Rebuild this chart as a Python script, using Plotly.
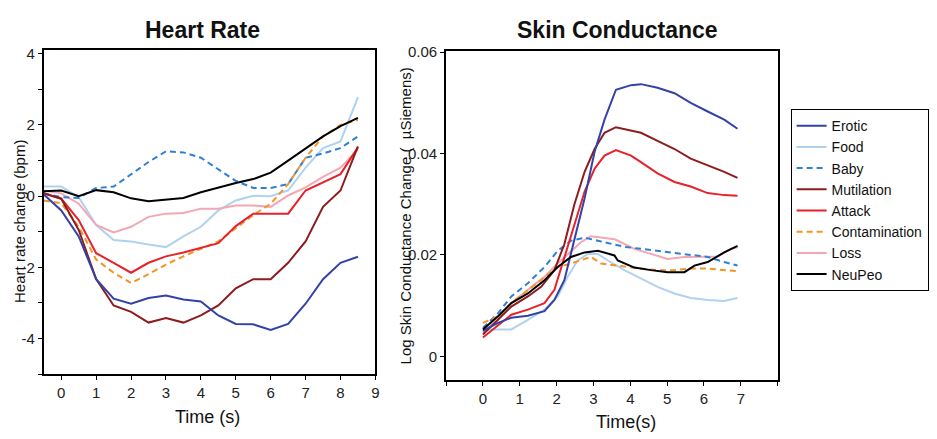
import plotly.graph_objects as go

# ---------------- Heart rate data (bpm change) ----------------
hr_time = [-0.5, 0, 0.5, 1, 1.5, 2, 2.5, 3, 3.5, 4, 4.5, 5, 5.5, 6, 6.5, 7, 7.5, 8, 8.5]
hr_erotic = [0.05, -0.4, -1.13, -2.33, -2.88, -3.02, -2.86, -2.79, -2.9, -2.96, -3.35, -3.59, -3.6, -3.76, -3.59, -3.02, -2.33, -1.87, -1.7]
hr_food = [0.27, 0.27, -0.03, -0.81, -1.23, -1.27, -1.36, -1.43, -1.13, -0.86, -0.4, -0.12, 0.01, 0.0, 0.16, 0.8, 1.35, 1.54, 2.78]
hr_baby = [0.08, -0.03, -0.05, 0.23, 0.27, 0.62, 0.96, 1.26, 1.23, 1.08, 0.76, 0.43, 0.23, 0.23, 0.34, 1.08, 1.2, 1.35, 1.68]
hr_mutilation = [0.08, -0.07, -0.95, -2.33, -3.07, -3.25, -3.55, -3.42, -3.55, -3.35, -3.07, -2.59, -2.33, -2.33, -1.87, -1.27, -0.3, 0.16, 1.4]
hr_attack = [0.08, -0.07, -0.67, -1.6, -1.87, -2.15, -1.87, -1.69, -1.58, -1.46, -1.32, -0.84, -0.49, -0.49, -0.49, 0.16, 0.39, 0.62, 1.37]
hr_contamination = [-0.12, -0.2, -0.86, -1.78, -2.15, -2.44, -2.19, -1.92, -1.69, -1.48, -1.27, -0.9, -0.53, -0.21, 0.34, 1.08, 1.68, 2.0, 2.14]
hr_loss = [0.16, 0.08, -0.21, -0.81, -1.02, -0.86, -0.58, -0.49, -0.47, -0.35, -0.35, -0.26, -0.26, -0.3, 0.02, 0.25, 0.54, 0.8, 1.31]
hr_neupeo = [0.14, 0.16, 0.0, 0.17, 0.11, -0.06, -0.14, -0.09, -0.05, 0.11, 0.25, 0.37, 0.48, 0.66, 1.0, 1.34, 1.68, 1.97, 2.2]

# ---------------- Skin conductance data (log µS change) ----------------
sc_t_erotic = [0.0, 0.41, 0.77, 1.22, 1.67, 1.94, 2.21, 2.48, 2.76, 3.03, 3.3, 3.61, 3.84, 4.02, 4.29, 4.74, 5.2, 5.64, 6.1, 6.55, 6.91]
sc_erotic = [0.0050, 0.0066, 0.0076, 0.0080, 0.0089, 0.0111, 0.0150, 0.0228, 0.0312, 0.0403, 0.0467, 0.0526, 0.0531, 0.0535, 0.0537, 0.0530, 0.0519, 0.0500, 0.0483, 0.0467, 0.0449]

sc_t_food = [0.0, 0.41, 0.77, 1.22, 1.67, 2.03, 2.3, 2.57, 2.85, 3.12, 3.39, 3.84, 4.29, 4.74, 5.2, 5.64, 6.1, 6.55, 6.91]
sc_food = [0.0053, 0.0053, 0.0053, 0.0072, 0.0092, 0.0118, 0.0157, 0.0189, 0.0202, 0.0202, 0.0189, 0.0170, 0.0153, 0.0137, 0.0124, 0.0115, 0.0111, 0.0109, 0.0115]

sc_t_baby = [0.0, 0.41, 0.77, 1.22, 1.67, 2.03, 2.39, 2.76, 3.12, 3.57, 3.84, 4.29, 4.74, 5.2, 5.64, 6.1, 6.55, 6.91]
sc_baby = [0.0056, 0.0085, 0.0118, 0.0144, 0.0176, 0.0208, 0.0228, 0.0234, 0.0228, 0.0221, 0.0216, 0.0212, 0.0208, 0.0205, 0.0200, 0.0196, 0.0186, 0.0179]

sc_t_mutilation = [0.0, 0.41, 0.77, 1.22, 1.58, 1.94, 2.21, 2.48, 2.76, 3.03, 3.3, 3.61, 4.29, 4.74, 5.2, 5.64, 6.1, 6.55, 6.91]
sc_mutilation = [0.0043, 0.0072, 0.0098, 0.0118, 0.0137, 0.0170, 0.0221, 0.0299, 0.0364, 0.0409, 0.0441, 0.0452, 0.0441, 0.0425, 0.0409, 0.0390, 0.0377, 0.0364, 0.0352]

sc_t_attack = [0.0, 0.41, 0.77, 1.22, 1.67, 1.94, 2.21, 2.48, 2.76, 3.03, 3.3, 3.61, 4.02, 4.29, 4.74, 5.2, 5.64, 6.1, 6.55, 6.91]
sc_attack = [0.0037, 0.0060, 0.0082, 0.0092, 0.0105, 0.0131, 0.0196, 0.0260, 0.0325, 0.0370, 0.0396, 0.0407, 0.0396, 0.0383, 0.0361, 0.0344, 0.0335, 0.0322, 0.0318, 0.0317]

sc_t_contamination = [0.0, 0.41, 0.77, 1.22, 1.67, 2.03, 2.39, 2.76, 2.93, 3.21, 3.57, 3.84, 4.29, 4.74, 5.2, 5.64, 6.1, 6.91]
sc_contamination = [0.0066, 0.0079, 0.0105, 0.0131, 0.0157, 0.0176, 0.0183, 0.0192, 0.0196, 0.0183, 0.0179, 0.0177, 0.0173, 0.0170, 0.0170, 0.0173, 0.0173, 0.0168]

sc_t_loss = [0.0, 0.41, 0.77, 1.22, 1.67, 2.03, 2.39, 2.66, 2.93, 3.3, 3.57, 3.66, 4.11, 4.56, 5.01, 5.47, 5.92, 6.37, 6.73, 6.91]
sc_loss = [0.0047, 0.0072, 0.0105, 0.0131, 0.0157, 0.0183, 0.0208, 0.0225, 0.0237, 0.0234, 0.0231, 0.0228, 0.0212, 0.0202, 0.0192, 0.0196, 0.0197, 0.0197, 0.0212, 0.0215]

sc_t_neupeo = [0.0, 0.41, 0.77, 1.22, 1.67, 2.03, 2.39, 2.76, 3.12, 3.57, 3.66, 4.11, 4.56, 5.01, 5.47, 5.74, 6.1, 6.55, 6.91]
sc_neupeo = [0.0053, 0.0079, 0.0105, 0.0124, 0.0150, 0.0176, 0.0196, 0.0205, 0.0208, 0.0199, 0.0189, 0.0175, 0.0170, 0.0166, 0.0166, 0.0179, 0.0186, 0.0205, 0.0218]

# ---------------- Tick labels ----------------
hr_xticks = [0, 1, 2, 3, 4, 5, 6, 7, 8, 9]
hr_yticks = [-4, -2, 0, 2, 4]
hr_yticklabels = ["-4", "-2", "0", "2", "4"]
hr_yminor = [-5, -3, -1, 1, 3]
sc_xticks = [-1, 0, 1, 2, 3, 4, 5, 6, 7, 8]
sc_xticklabels = ["", "0", "1", "2", "3", "4", "5", "6", "7", ""]
sc_yticks = [0, 0.02, 0.04, 0.06]
sc_yticklabels = ["0", "0.02", "0.04", "0.06"]

# ---------------- Styles ----------------
series = [
    ("Erotic", "#3342A6", "solid", hr_erotic, sc_t_erotic, sc_erotic),
    ("Food", "#AFD2F0", "solid", hr_food, sc_t_food, sc_food),
    ("Baby", "#2F7FD3", "6px,4px", hr_baby, sc_t_baby, sc_baby),
    ("Mutilation", "#8E1C1E", "solid", hr_mutilation, sc_t_mutilation, sc_mutilation),
    ("Attack", "#E8222B", "solid", hr_attack, sc_t_attack, sc_attack),
    ("Contamination", "#F39423", "6px,4px", hr_contamination, sc_t_contamination, sc_contamination),
    ("Loss", "#F4A7B3", "solid", hr_loss, sc_t_loss, sc_loss),
    ("NeuPeo", "#000000", "solid", hr_neupeo, sc_t_neupeo, sc_neupeo),
]

FONT = "Arial, Liberation Sans, sans-serif"
fig = go.Figure()

draw_order = ["Food", "Loss", "Baby", "Contamination", "Attack", "Mutilation", "Erotic", "NeuPeo"]
legend_rank = {s[0]: i for i, s in enumerate(series)}
lookup = {s[0]: s for s in series}
for name in draw_order:
    _, color, dash, hr, sct, scv = lookup[name]
    fig.add_trace(go.Scatter(
        x=hr_time, y=hr, mode="lines", name=name, legendgroup=name,
        legendrank=legend_rank[name] + 1,
        line=dict(color=color, width=2, dash=dash),
        xaxis="x", yaxis="y", showlegend=True))
    fig.add_trace(go.Scatter(
        x=sct, y=scv, mode="lines", name=name, legendgroup=name,
        line=dict(color=color, width=2, dash=dash),
        xaxis="x2", yaxis="y2", showlegend=False))

W, H = 937, 439
def px_x(p):
    return p / W
def px_y(p):
    return (H - p) / H

axis_common = dict(showline=True, linecolor="black", linewidth=2, mirror=True,
                   showgrid=False, zeroline=False, ticks="outside", ticklen=4,
                   tickcolor="black", tickwidth=1,
                   tickfont=dict(family=FONT, size=15, color="#222"))

fig.update_layout(
    width=W, height=H,
    margin=dict(l=0, r=0, t=0, b=0),
    paper_bgcolor="white", plot_bgcolor="white",
    font=dict(family=FONT, color="#111"),
    xaxis=dict(domain=[px_x(44), px_x(377)], range=[-0.5, 9], anchor="y",
               tickmode="array", tickvals=hr_xticks, **axis_common),
    yaxis=dict(domain=[px_y(373), px_y(43)], range=[-5, 4.1], anchor="x",
               tickmode="array", tickvals=hr_yticks, ticktext=hr_yticklabels,
               minor=dict(tickvals=hr_yminor, ticks="outside", ticklen=4, tickcolor="black"),
               **axis_common),
    xaxis2=dict(domain=[px_x(448), px_x(781)], range=[-1, 8], anchor="y2",
                tickmode="array", tickvals=sc_xticks, ticktext=sc_xticklabels, **axis_common),
    yaxis2=dict(domain=[px_y(379), px_y(44)], range=[-0.0047, 0.0602], anchor="x2",
                tickmode="array", tickvals=sc_yticks, ticktext=sc_yticklabels, **axis_common),
    legend=dict(x=px_x(794), y=px_y(103), xanchor="left", yanchor="top",
                bordercolor="black", borderwidth=1, bgcolor="white",
                font=dict(family=FONT, size=14, color="#111"),
                traceorder="normal"),
    annotations=[
        dict(text="<b>Heart Rate</b>", x=px_x(203), y=px_y(22), xref="paper", yref="paper",
             showarrow=False, font=dict(family=FONT, size=23, color="#111"),
             xanchor="center", yanchor="middle"),
        dict(text="<b>Skin Conductance</b>", x=px_x(620), y=px_y(22), xref="paper", yref="paper",
             showarrow=False, font=dict(family=FONT, size=23, color="#111"),
             xanchor="center", yanchor="middle"),
        dict(text="Time (s)", x=px_x(208), y=px_y(417), xref="paper", yref="paper",
             showarrow=False, font=dict(family=FONT, size=18, color="#111"),
             xanchor="center", yanchor="middle"),
        dict(text="Time(s)", x=px_x(629), y=px_y(422), xref="paper", yref="paper",
             showarrow=False, font=dict(family=FONT, size=18, color="#111"),
             xanchor="center", yanchor="middle"),
        dict(text="Heart rate change (bpm)", x=px_x(19), y=px_y(217), xref="paper", yref="paper",
             showarrow=False, textangle=-90, font=dict(family=FONT, size=15, color="#111"),
             xanchor="center", yanchor="middle"),
        dict(text="Log Skin Conductance Change (  µSiemens)", x=px_x(407), y=px_y(212), xref="paper", yref="paper",
             showarrow=False, textangle=-90, font=dict(family=FONT, size=15, color="#111"),
             xanchor="center", yanchor="middle"),
    ],
)

post = ("document.documentElement.style.margin='0';document.body.style.margin='0';"
        "document.body.style.overflow='hidden';"
        "var d=document.getElementById('{plot_id}');"
        "d.style.position='fixed';d.style.top='0px';d.style.left='0px';")
fig.write_html("out.html", config={"displayModeBar": False}, post_script=post)
